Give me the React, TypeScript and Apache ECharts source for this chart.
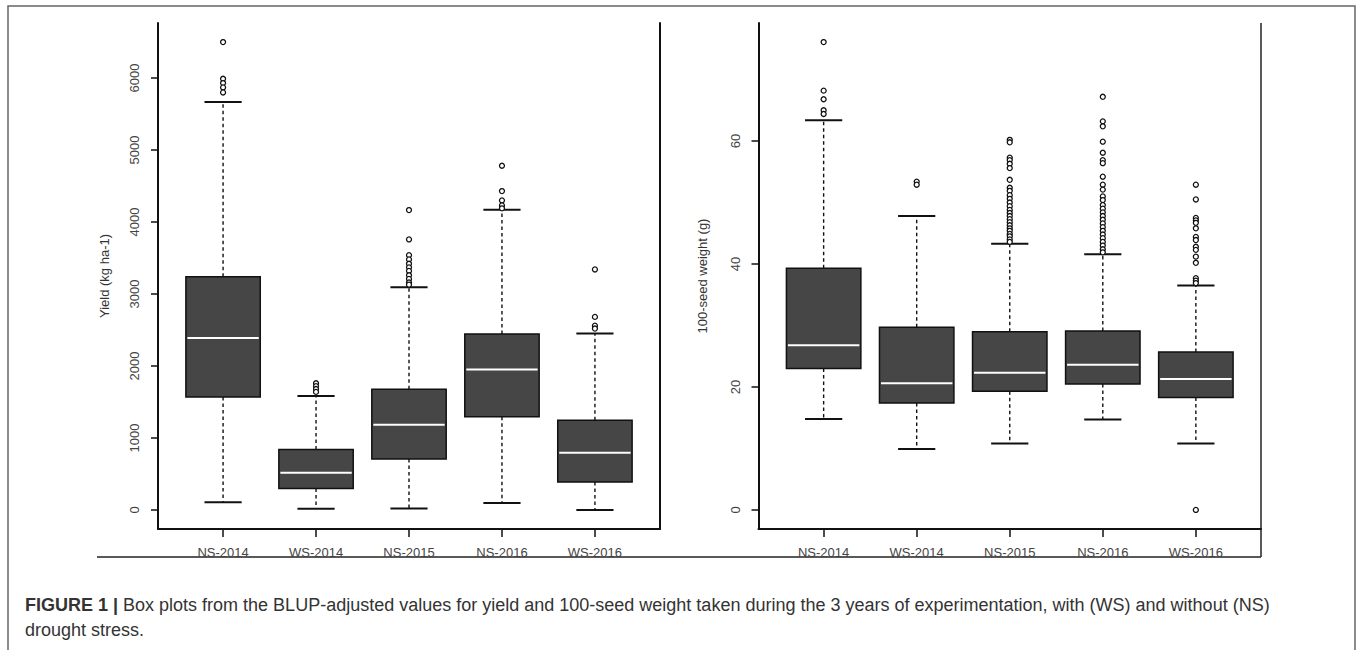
import React, { useEffect, useRef } from "react";
import * as echarts from "echarts";

const categories = ["NS-2014", "WS-2014", "NS-2015", "NS-2016", "WS-2016"];
const categoryPositions = [1, 2, 3, 4, 5];
const yieldTicks = [0, 1000, 2000, 3000, 4000, 5000, 6000];
const seedTicks = [0, 20, 40, 60];

// [lower whisker, Q1, median, Q3, upper whisker]
const yieldBoxes = [
  [108, 1569, 2390, 3238, 5668],
  [17, 299, 517, 841, 1583],
  [21, 707, 1185, 1676, 3095],
  [95, 1296, 1950, 2445, 4170],
  [0, 387, 796, 1245, 2451],
];
const yieldOutliers = [
  [6500, 5990, 5930, 5870, 5800],
  [1760, 1720, 1680, 1640],
  [4166, 3758, 3540, 3480, 3420, 3370, 3320, 3260, 3210, 3160, 3130],
  [4782, 4430, 4300, 4230, 4190],
  [3341, 2682, 2560, 2520],
];

const seedBoxes = [
  [14.8, 23.0, 26.8, 39.3, 63.4],
  [9.9, 17.4, 20.6, 29.7, 47.8],
  [10.8, 19.3, 22.3, 29.0, 43.3],
  [14.7, 20.5, 23.6, 29.1, 41.6],
  [10.8, 18.3, 21.3, 25.7, 36.5],
];
const seedOutliers = [
  [76.1, 68.2, 66.8, 65.0, 64.4],
  [53.4, 52.9],
  [60.2, 59.8, 57.3, 56.9, 56.3, 55.6, 53.7, 52.4, 51.9, 51.2, 50.6, 50.0, 49.4, 48.8, 48.3, 47.8, 47.3, 46.8, 46.3, 45.8, 45.4, 44.9, 44.5, 44.0, 43.6],
  [67.2, 63.2, 62.4, 59.9, 58.1, 56.9, 56.4, 54.2, 52.9, 52.1, 51.0, 50.4, 49.6, 49.0, 48.4, 47.8, 47.2, 46.6, 46.0, 45.4, 44.8, 44.2, 43.6, 43.0, 42.4, 41.9],
  [52.9, 50.5, 47.5, 47.1, 46.7, 45.8, 44.4, 43.9, 42.8, 42.3, 41.2, 40.2, 37.7, 37.3, 36.9, 0.0],
];

const FONT = '"Liberation Sans", Arial, Helvetica, sans-serif';
const INK = "#111";

function renderBox(params: any, api: any) {
  const x = api.value(0);
  const lo = api.coord([x, api.value(1)]);
  const q1 = api.coord([x, api.value(2)]);
  const md = api.coord([x, api.value(3)]);
  const q3 = api.coord([x, api.value(4)]);
  const hi = api.coord([x, api.value(5)]);
  const band = api.size([1, 0])[0];
  const bw = band * 0.8;
  const cx = lo[0];
  const dash = { stroke: INK, lineWidth: 1.4, lineDash: [3.5, 3], fill: null };
  const cap = { stroke: INK, lineWidth: 2, fill: null };
  return {
    type: "group",
    children: [
      { type: "line", shape: { x1: cx, y1: q3[1], x2: cx, y2: hi[1] }, style: dash },
      { type: "line", shape: { x1: cx, y1: q1[1], x2: cx, y2: lo[1] }, style: dash },
      { type: "line", shape: { x1: cx - bw / 4, y1: hi[1], x2: cx + bw / 4, y2: hi[1] }, style: cap },
      { type: "line", shape: { x1: cx - bw / 4, y1: lo[1], x2: cx + bw / 4, y2: lo[1] }, style: cap },
      {
        type: "rect",
        shape: { x: cx - bw / 2, y: q3[1], width: bw, height: q1[1] - q3[1] },
        style: { fill: "#464646", stroke: INK, lineWidth: 1.5 },
      },
      {
        type: "line",
        shape: { x1: cx - bw / 2 + 1.5, y1: md[1], x2: cx + bw / 2 - 1.5, y2: md[1] },
        style: { stroke: "#ffffff", lineWidth: 2, fill: null },
      },
    ],
  };
}

function xAxisFor(gridIndex: number) {
  return {
    type: "value",
    gridIndex,
    min: 0.3,
    max: 5.7,
    axisLine: { show: true, onZero: false, lineStyle: { color: INK, width: 2 } },
    axisTick: { show: true, length: 8, customValues: categoryPositions, lineStyle: { color: INK, width: 1.5 } },
    axisLabel: {
      show: true,
      customValues: categoryPositions,
      formatter: (v: number) => categories[Math.round(v) - 1] ?? "",
      margin: 17,
      fontSize: 13,
      color: "#444",
      fontFamily: FONT,
    },
    splitLine: { show: false },
  };
}

function yAxisFor(gridIndex: number, min: number, max: number, ticks: number[], name: string, nameGap: number) {
  return {
    type: "value",
    gridIndex,
    min,
    max,
    name,
    nameLocation: "middle",
    nameGap,
    nameRotate: 90,
    nameTextStyle: { fontSize: 13, color: "#333", fontFamily: FONT },
    axisLine: { show: true, onZero: false, lineStyle: { color: INK, width: 2 } },
    axisTick: { show: true, length: 7, customValues: ticks, lineStyle: { color: INK, width: 1.5 } },
    axisLabel: {
      show: true,
      customValues: ticks,
      rotate: 90,
      margin: 17,
      fontSize: 13,
      color: "#444",
      fontFamily: FONT,
      formatter: (v: number) => String(v),
    },
    splitLine: { show: false },
  };
}

function rightLineAxis(gridIndex: number, min: number, max: number) {
  return {
    type: "value",
    gridIndex,
    min,
    max,
    position: "right",
    axisLine: { show: true, onZero: false, lineStyle: { color: INK, width: 2 } },
    axisTick: { show: false },
    axisLabel: { show: false },
    splitLine: { show: false },
  };
}

function outlierSeries(xAxisIndex: number, yAxisIndex: number, data: number[][]) {
  return {
    type: "scatter",
    xAxisIndex,
    yAxisIndex,
    symbol: "circle",
    symbolSize: 5,
    itemStyle: { color: "#ffffff", borderColor: INK, borderWidth: 1.3, opacity: 1 },
    emphasis: { disabled: true },
    data,
    z: 5,
  };
}

export default function App() {
  const ref = useRef<HTMLDivElement>(null);
  useEffect(() => {
    if (!ref.current) return;
    const chart = echarts.init(ref.current, null, { renderer: "svg" });
    const yieldMin = -265;
    const yieldMax = 6765;
    const seedMin = -3.1;
    const seedMax = 79.2;
    const boxData = (boxes: number[][]) => boxes.map((b, i) => [categoryPositions[i], ...b]);
    const outlierData = (outs: number[][]) => {
      const out: number[][] = [];
      outs.forEach((arr, i) => arr.forEach((v) => out.push([categoryPositions[i], v])));
      return out;
    };
    const option: any = {
      animation: false,
      backgroundColor: "#ffffff",
      grid: [
        { left: 158, right: 700, top: 23, bottom: 121, outerBoundsMode: "none", containLabel: false },
        { left: 758.5, right: 99, top: 23, bottom: 121, outerBoundsMode: "none", containLabel: false },
      ],
      xAxis: [xAxisFor(0), xAxisFor(1)],
      yAxis: [
        yAxisFor(0, yieldMin, yieldMax, yieldTicks, "Yield (kg ha-1)", 47.5),
        rightLineAxis(0, yieldMin, yieldMax),
        yAxisFor(1, seedMin, seedMax, seedTicks, "100-seed weight (g)", 50),
      ],
      series: [
        {
          type: "custom",
          xAxisIndex: 0,
          yAxisIndex: 0,
          renderItem: renderBox,
          encode: { x: 0, y: [1, 2, 3, 4, 5] },
          data: boxData(yieldBoxes),
          z: 2,
        },
        outlierSeries(0, 0, outlierData(yieldOutliers)),
        {
          type: "custom",
          xAxisIndex: 1,
          yAxisIndex: 2,
          renderItem: renderBox,
          encode: { x: 0, y: [1, 2, 3, 4, 5] },
          data: boxData(seedBoxes),
          z: 2,
        },
        outlierSeries(1, 2, outlierData(seedOutliers)),
      ],
      graphic: [
        {
          type: "rect",
          shape: { x: 8, y: 6, width: 1347, height: 700 },
          style: { fill: null, stroke: "#666", lineWidth: 1.5 },
          silent: true,
        },
        {
          type: "line",
          shape: { x1: 97, y1: 557, x2: 1261, y2: 557 },
          style: { stroke: "#222", lineWidth: 1.5 },
          silent: true,
        },
        {
          type: "line",
          shape: { x1: 1261, y1: 23, x2: 1261, y2: 557 },
          style: { stroke: "#222", lineWidth: 1.5 },
          silent: true,
        },
        {
          type: "text",
          x: 25,
          y: 605,
          style: {
            text: "{b|FIGURE 1 |} Box plots from the BLUP-adjusted values for yield and 100-seed weight taken during the 3 years of experimentation, with (WS) and without (NS)",
            fontSize: 18,
            fontFamily: FONT,
            fill: "#333",
            verticalAlign: "middle",
            rich: { b: { fontWeight: "bold", fontSize: 18, fontFamily: FONT, fill: "#333" } },
          },
          silent: true,
        },
        {
          type: "text",
          x: 25,
          y: 630,
          style: {
            text: "drought stress.",
            fontSize: 18,
            fontFamily: FONT,
            fill: "#333",
            verticalAlign: "middle",
          },
          silent: true,
        },
      ],
    };
    chart.setOption(option);
    return () => chart.dispose();
  }, []);
  return (
    <div
      ref={ref}
      style={{ position: "fixed", left: 0, top: 0, width: 1360, height: 650, background: "#fff" }}
    />
  );
}
